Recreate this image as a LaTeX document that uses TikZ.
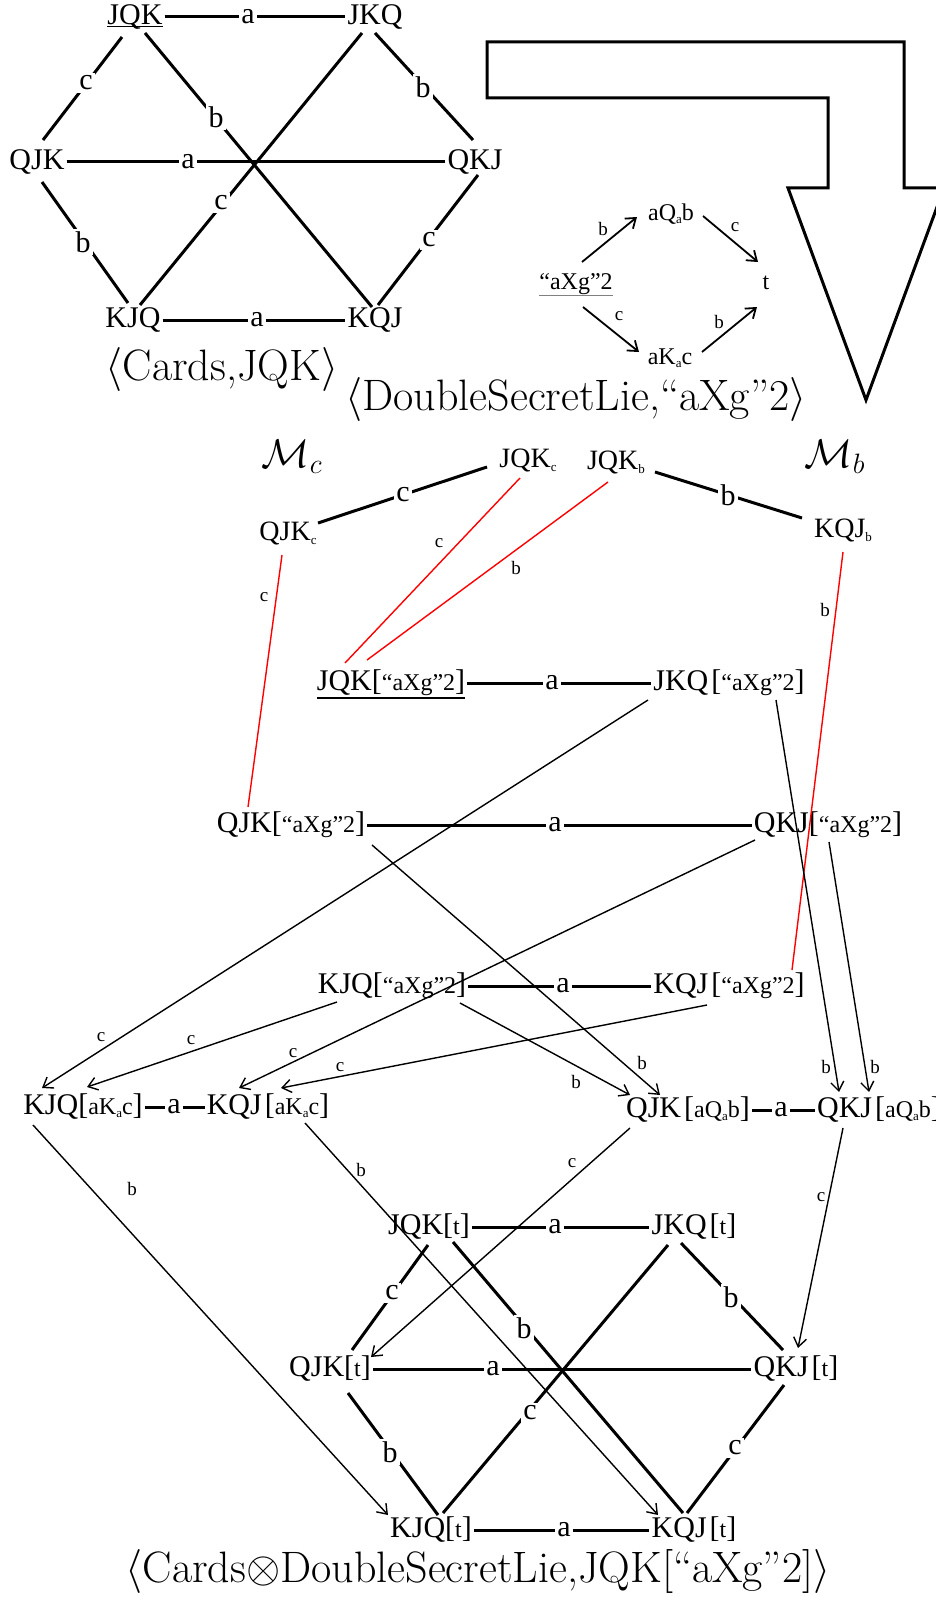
\RequirePackage{fix-cm}
\documentclass[tikz,border=0pt]{standalone}
\usepackage{fontspec}
\newfontfamily\tmfont{Liberation Serif}
\usetikzlibrary{arrows.meta,calc}
\newcommand\fsz[1]{\fontsize{#1}{#1}\selectfont}
\newcommand\bk[1]{{\fsz{24}#1}}
\newcommand\sbs[1]{\raisebox{-3pt}{\fsz{13}#1}}
\newcommand\sbm[1]{\raisebox{-4pt}{\fsz{13}#1}}
\newcommand\myul[2]{\setbox0\hbox{#2}\rlap{\rule[-#1]{\wd0}{1.2pt}}\box0}
\newcommand\myulg[2]{\setbox0\hbox{#2}\rlap{\color{gray}\rule[-#1]{\wd0}{0.8pt}}\box0}
\tikzset{
 nd/.style={font=\tmfont\fsz{30}, inner xsep=2pt, inner ysep=3pt, text height=21pt, text depth=6pt},
 nm/.style={font=\tmfont\fsz{28}, inner sep=2pt, text height=19pt, text depth=5pt},
 ns/.style={font=\tmfont\fsz{24}, inner sep=2pt, text height=17pt, text depth=5pt},
 hl/.style={font=\tmfont\fsz{30}, fill=white, inner sep=2.5pt},
 sl/.style={font=\tmfont\fsz{19}, inner sep=1pt},
 thk/.style={line width=3pt},
 arr/.style={line width=1.4pt, -{Straight Barb[length=9pt,width=13pt]}},
 sarr/.style={line width=1.8pt, -{Straight Barb[length=9pt,width=13pt]}},
 rd/.style={red, line width=1.4pt},
 captxt/.style={font=\fsz{44}, inner sep=0pt},
}
\begin{document}
\begin{tikzpicture}[x=1pt,y=-1pt]
\useasboundingbox (0,0) rectangle (936,1597);
\clip (0,0) rectangle (936,1597);
% ---------- top hexagon ----------
\node[nd] (t1) at (135,17) {\myul{2.6pt}{JQK}};
\node[nd] (t2) at (375,17) {JKQ};
\node[nd] (t3) at (37,162) {QJK};
\node[nd] (t4) at (475,162) {QKJ};
\node[nd] (t5) at (133,320) {KJQ};
\node[nd] (t6) at (375,320) {KQJ};
\draw[thk] (t1) -- (t2);
\draw[thk] (t3) -- (t4);
\draw[thk] (t5) -- (t6);
\draw[thk] ([shift={(-13,20)}]t1.center) -- ([shift={(6,-22)}]t3.center);
\draw[thk] ([shift={(10,16)}]t1.center) -- ([shift={(-3,-13)}]t6.center);
\draw[thk] ([shift={(0,16)}]t2.center) -- ([shift={(-2,-22)}]t4.center);
\draw[thk] ([shift={(-13,16)}]t2.center) -- ([shift={(7,-15)}]t5.center);
\draw[thk] ([shift={(5,20)}]t3.center) -- ([shift={(-5,-17)}]t5.center);
\draw[thk] ([shift={(3,13)}]t4.center) -- ([shift={(3,-15)}]t6.center);
\node[hl] (ta1) at (248,17) {a};
\node[hl] (ta2) at (188,162) {a};
\node[hl] (ta3) at (257,320) {a};
\node[hl] (tc1) at (86,83) {c};
\node[hl] (tb1) at (216,117) {b};
\node[hl] (tb2) at (423,87) {b};
\node[hl] (tc2) at (221,203) {c};
\node[hl] (tb3) at (83,242) {b};
\node[hl] (tc3) at (429,240) {c};
\node[captxt] (c1) at (222,369) {$\langle$Cards,JQK$\rangle$};
% ---------- big arrow ----------
\draw[line width=3pt, line join=miter] (487,42) -- (904,42) -- (904,188) -- (944,188) -- (866,400) -- (788,188) -- (828,188) -- (828,98) -- (487,98) -- cycle;
% ---------- small diagram ----------
\node[ns] (s0) at (576,283) {\myulg{7pt}{“aXg”2}};
\node[ns] (s1) at (671,215) {aQ\sbs{a}b};
\node[ns] (s2) at (766,283) {t};
\node[ns] (s3) at (670,358) {aK\sbs{a}c};
\draw[sarr] ([shift={(6,-21)}]s0.center) -- ([shift={(-34,2)}]s1.center);
\draw[sarr] ([shift={(32,1)}]s1.center) -- ([shift={(-8,-21)}]s2.center);
\draw[sarr] ([shift={(7,24)}]s0.center) -- ([shift={(-31,-6)}]s3.center);
\draw[sarr] ([shift={(32,-6)}]s3.center) -- ([shift={(-9,24)}]s2.center);
\node[sl] (sl1) at (603,229) {b};
\node[sl] (sl2) at (735,227) {c};
\node[sl] (sl3) at (619,316) {c};
\node[sl] (sl4) at (719,322) {b};
\node[captxt] (c2) at (576,399) {$\langle$DoubleSecretLie,“aXg”2$\rangle$};
% ---------- models ----------
\node[font=\fsz{40}, inner sep=0pt] (Mc) at (292,457) {$\mathcal{M}_c$};
\node[font=\fsz{40}, inner sep=0pt] (Mb) at (835,457) {$\mathcal{M}_b$};
\node[nm] (mJc) at (528,460) {JQK\sbm{c}};
\node[nm] (mJb) at (616,462) {JQK\sbm{b}};
\node[nm] (mQc) at (288,533) {QJK\sbm{c}};
\node[nm] (mKb) at (843,530) {KQJ\sbm{b}};
\draw[thk] ([shift={(-41,7)}]mJc.center) -- ([shift={(30,-10)}]mQc.center);
\draw[thk] ([shift={(39,10)}]mJb.center) -- ([shift={(-41,-12)}]mKb.center);
\node[hl] (mlc) at (403,495) {c};
\node[hl] (mlb) at (728,495) {b};
% ---------- product rows ----------
\node[nd] (r1a) at (391,683) {\myul{8pt}{JQK[\bk{“aXg”2}]}};
\node[nd] (r1b) at (729,683) {JKQ\kern3pt[\bk{“aXg”2}]};
\node[nd] (r2a) at (291,825) {QJK[\bk{“aXg”2}]};
\node[nd] (r2b) at (828,825) {QKJ[\bk{“aXg”2}]};
\node[nd] (r3a) at (392,986) {KJQ[\bk{“aXg”2}]};
\node[nd] (r3b) at (729,986) {KQJ\kern3pt[\bk{“aXg”2}]};
\node[nd] (r4a) at (83,1107) {KJQ[\bk{aK\sbs{a}c}]};
\node[nd] (r4b) at (268,1107) {KQJ\kern3pt[\bk{aK\sbs{a}c}]};
\node[nd] (r5a) at (688,1110) {QJK\kern3pt[\bk{aQ\sbs{a}b}]};
\node[nd] (r5b) at (879,1110) {QKJ\kern3pt[\bk{aQ\sbs{a}b}]};
% ---------- bottom hexagon nodes ----------
\node[nd] (b1) at (429,1227) {JQK[\bk{t}]};
\node[nd] (b2) at (694,1227) {JKQ\kern3pt[\bk{t}]};
\node[nd] (b3) at (330,1369) {QJK[\bk{t}]};
\node[nd] (b4) at (796,1369) {QKJ\kern3pt[\bk{t}]};
\node[nd] (b5) at (431,1530) {KJQ[\bk{t}]};
\node[nd] (b6) at (694,1530) {KQJ\kern3pt[\bk{t}]};
% red links
\draw[rd] ([shift={(-8,18)}]mJc.center) -- ([shift={(-46,-20)}]r1a.center);
\draw[rd] ([shift={(-8,20)}]mJb.center) -- ([shift={(-24,-23)}]r1a.center);
\draw[rd] ([shift={(-6,22)}]mQc.center) -- ([shift={(-43,-18)}]r2a.center);
\draw[rd] ([shift={(0,22)}]mKb.center) -- ([shift={(63,-16)}]r3b.center);
\node[sl] (rl1) at (439,543) {c};
\node[sl] (rl2) at (516,568) {b};
\node[sl] (rl3) at (264,597) {c};
\node[sl] (rl4) at (825,610) {b};
% thick a-lines
\draw[thk] (r1a) -- (r1b);
\draw[thk] (r2a) -- (r2b);
\draw[thk] (r3a) -- (r3b);
\draw[thk] (r4a) -- (r4b);
\draw[thk] (r5a) -- (r5b);
% thin arrows
\draw[arr] ([shift={(-81,17)}]r1b.center) -- ([shift={(-41,-19)}]r4a.center);
\draw[arr] ([shift={(-55,16)}]r3a.center) -- ([shift={(4,-20)}]r4a.center);
\draw[arr] ([shift={(-73,15)}]r2b.center) -- ([shift={(-29,-19)}]r4b.center);
\draw[arr] ([shift={(-22,19)}]r3b.center) -- ([shift={(13,-19)}]r4b.center);
\draw[arr] ([shift={(81,20)}]r2a.center) -- ([shift={(-28,-15)}]r5a.center);
\draw[arr] ([shift={(68,17)}]r3a.center) -- ([shift={(-58,-15)}]r5a.center);
\draw[arr] ([shift={(47,17)}]r1b.center) -- ([shift={(-40,-18)}]r5b.center);
\draw[arr] ([shift={(1,17)}]r2b.center) -- ([shift={(-10,-18)}]r5b.center);
\draw[arr] ([shift={(-50,18)}]r4a.center) -- ([shift={(-43,-15)}]b5.center);
\draw[arr] ([shift={(37,16)}]r4b.center) -- ([shift={(-36,-15)}]b6.center);
\draw[arr] ([shift={(-58,18)}]r5a.center) -- ([shift={(41,-12)}]b3.center);
\draw[arr] ([shift={(-36,18)}]r5b.center) -- ([shift={(2,-21)}]b4.center);
\node[sl] (al1) at (101,1037) {c};
\node[sl] (al2) at (191,1040) {c};
\node[sl] (al3) at (293,1053) {c};
\node[sl] (al4) at (340,1067) {c};
\node[sl] (al5) at (642,1063) {b};
\node[sl] (al6) at (576,1082) {b};
\node[sl] (al7) at (826,1067) {b};
\node[sl] (al8) at (875,1067) {b};
\node[sl] (al9) at (132,1189) {b};
\node[sl] (al10) at (361,1170) {b};
\node[sl] (al11) at (572,1163) {c};
\node[sl] (al12) at (821,1197) {c};
% bottom hexagon edges
\draw[thk] (b1) -- (b2);
\draw[thk] (b3) -- (b4);
\draw[thk] (b5) -- (b6);
\draw[thk] ([shift={(-1,18)}]b1.center) -- ([shift={(22,-19)}]b3.center);
\draw[thk] ([shift={(24,15)}]b1.center) -- ([shift={(-11,-17)}]b6.center);
\draw[thk] ([shift={(-13,16)}]b2.center) -- ([shift={(-13,-19)}]b4.center);
\draw[thk] ([shift={(-26,18)}]b2.center) -- ([shift={(12,-17)}]b5.center);
\draw[thk] ([shift={(18,24)}]b3.center) -- ([shift={(7,-15)}]b5.center);
\draw[thk] ([shift={(-12,16)}]b4.center) -- ([shift={(-7,-17)}]b6.center);
% thick-line labels
\node[hl] (ra1) at (552,683) {a};
\node[hl] (ra2) at (555,825) {a};
\node[hl] (ra3) at (563,986) {a};
\node[hl] (ra4) at (174,1107) {a};
\node[hl] (ra5) at (781,1110) {a};
\node[hl] (ba1) at (555,1227) {a};
\node[hl] (bc1) at (392,1293) {c};
\node[hl] (bb1) at (524,1328) {b};
\node[hl] (bb2) at (731,1297) {b};
\node[hl] (ba2) at (493,1369) {a};
\node[hl] (bc2) at (530,1413) {c};
\node[hl] (bb3) at (390,1452) {b};
\node[hl] (bc3) at (735,1448) {c};
\node[hl] (ba3) at (564,1530) {a};
\node[captxt] (c3) at (478,1571) {$\langle$Cards$\otimes$DoubleSecretLie,JQK[“aXg”2]$\rangle$};
\end{tikzpicture}
\end{document}
